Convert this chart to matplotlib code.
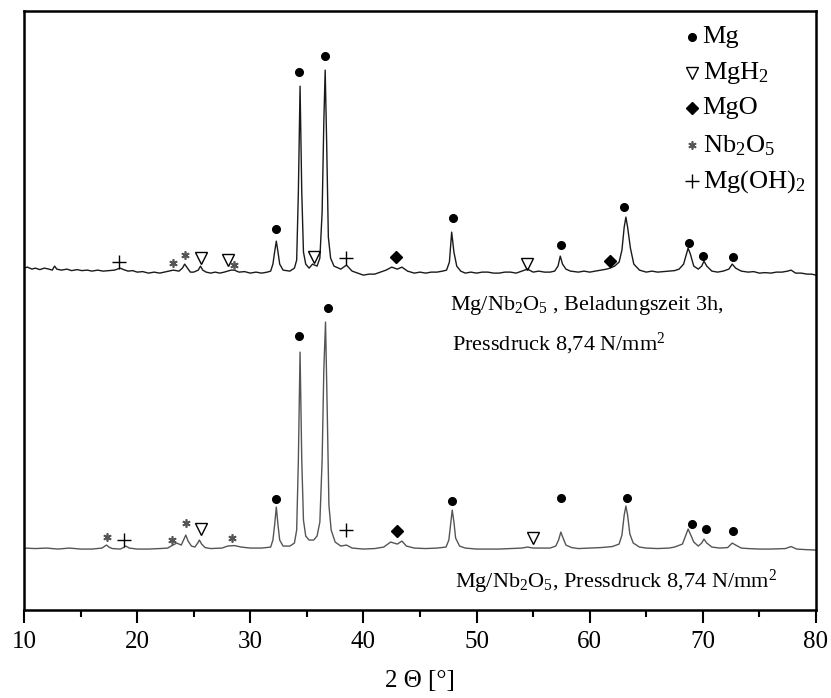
import matplotlib
matplotlib.use("Agg")
import matplotlib.pyplot as plt

plt.rcParams['font.family'] = 'Liberation Serif'
plt.rcParams['mathtext.fontset'] = 'custom'
plt.rcParams['mathtext.rm'] = 'Liberation Serif'
plt.rcParams['mathtext.it'] = 'Liberation Serif:italic'

# XRD pattern, Mg/Nb2O5 pressed (lower curve)
two_theta_a = [10.0, 11.0, 12.0, 13.0, 14.0, 15.0, 16.0, 16.9, 17.15, 17.3, 17.5, 17.8, 18.5,
               18.8, 19.0, 19.3, 20.0, 21.0, 22.0, 22.7, 23.0, 23.5, 23.9, 24.1, 24.3, 24.5,
               24.8, 25.1, 25.35, 25.5, 25.7, 26.0, 26.5, 27.5, 28.0, 28.6, 29.2, 30.0, 31.0,
               31.8, 32.0, 32.15, 32.3, 32.45, 32.6, 32.9, 33.5, 33.9, 34.1, 34.25, 34.4,
               34.55, 34.7, 34.9, 35.2, 35.6, 35.9, 36.15, 36.35, 36.5, 36.65, 36.8, 36.95,
               37.15, 37.5, 38.0, 38.5, 39.0, 40.0, 41.0, 41.8, 42.4, 43.0, 43.4, 43.8, 44.5,
               45.5, 46.5, 47.3, 47.55, 47.7, 47.85, 48.0, 48.15, 48.5, 49.0, 50.0, 51.0,
               52.0, 53.0, 54.0, 54.5, 55.0, 56.5, 57.0, 57.25, 57.45, 57.65, 57.9, 58.4,
               59.0, 60.0, 61.0, 62.0, 62.6, 62.85, 63.05, 63.2, 63.35, 63.55, 63.85, 64.4,
               65.0, 66.0, 67.0, 67.5, 68.2, 68.5, 68.7, 68.9, 69.2, 69.6, 69.9, 70.1, 70.35,
               70.8, 71.5, 72.2, 72.6, 72.9, 73.4, 74.0, 75.0, 76.0, 77.3, 77.8, 78.3, 79.0, 80.0]
intens_a = [62, 61.5, 62, 61, 62, 61, 61, 62, 64, 65, 63, 61.5, 61,
            62.5, 64, 62, 61, 61, 61.5, 62, 64, 67, 65, 70, 75, 69,
            64, 63, 67, 70, 66, 62.5, 61.5, 62, 64, 64.5, 63, 62, 62,
            63, 70, 85, 103, 85, 70, 64, 64, 67, 80, 150, 258,
            150, 90, 74, 70, 70, 74, 88, 150, 240, 288, 200, 105,
            80, 68, 64, 65, 62, 61, 61.5, 63, 68, 66, 69, 64, 62,
            61.5, 62, 63, 70, 85, 100, 88, 72, 64, 62, 61, 61,
            61, 61.5, 62, 63, 62, 62, 64, 70, 78, 72, 65, 62.5,
            61.5, 62, 62.5, 63.5, 66, 75, 95, 104, 95, 76, 67, 63,
            62, 61.5, 62, 63, 66, 75, 81, 76, 68, 64, 67, 71, 67,
            63, 62, 62.5, 67, 65, 62, 61.5, 61, 61, 61.5, 63.5, 61, 60.5, 60]

# XRD pattern, Mg/Nb2O5 after 3h loading (upper curve)
two_theta_b = [10.0, 10.3, 10.7, 11.0, 11.4, 11.8, 12.2, 12.5, 12.7, 12.9, 13.3, 13.8, 14.2,
               14.7, 15.1, 15.6, 16.0, 16.5, 17.0, 17.5, 18.0, 18.5, 18.8, 19.2, 19.6, 20.0,
               20.5, 21.0, 21.5, 22.0, 22.4, 22.8, 23.2, 23.7, 24.0, 24.2, 24.45, 24.7, 25.0,
               25.4, 25.6, 25.8, 26.1, 26.5, 26.9, 27.3, 27.7, 28.0, 28.3, 28.6, 29.0, 29.5,
               30.0, 30.5, 31.0, 31.5, 31.8, 32.0, 32.15, 32.3, 32.45, 32.6, 32.9, 33.5, 33.9,
               34.1, 34.25, 34.4, 34.55, 34.7, 34.9, 35.2, 35.5, 35.9, 36.15, 36.35, 36.5,
               36.62, 36.75, 36.9, 37.1, 37.4, 38.0, 38.5, 39.0, 39.5, 40.0, 40.5, 41.0, 41.5,
               42.0, 42.5, 43.0, 43.4, 43.9, 44.5, 45.0, 45.5, 46.0, 46.5, 47.0, 47.35, 47.6,
               47.8, 48.0, 48.25, 48.6, 49.0, 49.5, 50.0, 50.5, 51.0, 51.5, 52.0, 52.5, 53.0,
               53.5, 54.0, 54.5, 55.0, 55.5, 56.0, 56.5, 56.9, 57.2, 57.4, 57.6, 57.9, 58.3,
               59.0, 59.5, 60.0, 60.5, 61.0, 61.5, 61.8, 62.2, 62.6, 62.85, 63.05, 63.2,
               63.35, 63.6, 63.9, 64.4, 65.0, 65.5, 66.0, 66.5, 67.0, 67.5, 67.9, 68.3, 68.5,
               68.7, 68.9, 69.2, 69.6, 69.9, 70.1, 70.35, 70.8, 71.3, 71.8, 72.3, 72.6, 72.9,
               73.4, 74.0, 74.5, 75.0, 75.5, 76.0, 76.5, 77.0, 77.5, 77.8, 78.2, 78.7, 79.2,
               79.6, 80.0]
intens_b = [64, 65, 63, 64, 62.5, 64, 63, 62, 66, 63, 62, 63, 61.5,
            62.5, 61.5, 62, 61, 62, 61, 61.5, 62, 64, 62.5, 61, 61.5, 60,
            60.5, 59, 60, 59, 60, 61, 62, 61, 64, 68, 64, 60, 60,
            62, 66, 62, 60, 59, 60, 59, 60, 61, 62, 62, 60, 60.5,
            59, 60, 59, 60, 61, 68, 80, 91, 80, 68, 62, 61, 64,
            72, 140, 246, 140, 80, 68, 64, 68, 66, 74, 120, 210,
            262, 190, 95, 74, 66, 63, 67, 61, 59, 57, 58, 58, 60,
            62, 65, 63, 65, 61, 59, 60, 59, 60, 60, 61, 62, 70,
            100, 80, 66, 61, 59, 60, 59, 60, 60, 59, 59, 60, 60,
            59, 61, 63, 60, 61, 60, 60, 61, 66, 76, 68, 63, 61,
            60, 61, 60, 61, 62, 63, 64, 66, 70, 82, 105, 115,
            105, 84, 68, 62, 60, 61, 60, 60.5, 61, 61.5, 63, 68, 76,
            84, 78, 66, 63, 66, 71, 66, 61, 60, 61, 63, 68, 64,
            61, 60, 60.5, 59, 59.5, 59, 60, 60, 61, 62, 59, 59, 58,
            58, 57]
offset_b = 278

# phase markers (2theta, intensity level) for each pattern
mg_a = [(32.3, 111), (34.3, 274), (36.9, 302), (47.8, 109), (57.5, 112), (63.3, 112),
        (69.0, 86), (70.3, 81), (72.7, 79)]
mgh2_a = [(25.6, 81), (55.0, 72)]
mgo_a = [(43.0, 79)]
nb2o5_a = [(17.3, 73), (23.1, 70), (24.3, 87), (28.4, 72)]
mgoh2_a = [(18.8, 70), (38.5, 80)]

mg_b = [(32.3, 103), (34.3, 260), (36.6, 276), (47.9, 114), (57.5, 87), (63.0, 125),
        (68.8, 89), (70.0, 76), (72.7, 75)]
mgh2_b = [(25.6, 74), (28.0, 72), (35.6, 75), (54.5, 68)]
mgo_b = [(42.9, 75), (61.8, 71)]
nb2o5_b = [(23.2, 69), (24.2, 77), (28.6, 67)]
mgoh2_b = [(18.4, 70), (38.5, 74)]

styles = {
    'mg': dict(marker='o', color='black', markersize=5.5, linestyle='none'),
    'mgh2': dict(marker='v', markerfacecolor='none', markeredgecolor='black',
                 markersize=9, markeredgewidth=1, linestyle='none'),
    'mgo': dict(marker='D', color='black', markersize=6, linestyle='none'),
    'nb2o5': dict(marker=(6, 2, 0), color='#555555', markersize=6,
                  markeredgewidth=1.2, linestyle='none'),
    'mgoh2': dict(marker='+', color='black', markersize=10, markeredgewidth=1,
                  linestyle='none'),
}

fig = plt.figure(figsize=(8.31, 6.98), dpi=100)
ax = fig.add_axes([0.0289, 0.126, 0.953, 0.858])

ax.plot(two_theta_a, intens_a, color='#555555', linewidth=1.0)
ax.plot(two_theta_b, [v + offset_b for v in intens_b], color='#1a1a1a', linewidth=1.0)


def put(points, key, off=0):
    ax.plot([p[0] for p in points], [p[1] + off for p in points], **styles[key])


put(mg_a, 'mg'); put(mgh2_a, 'mgh2'); put(mgo_a, 'mgo'); put(nb2o5_a, 'nb2o5'); put(mgoh2_a, 'mgoh2')
put(mg_b, 'mg', offset_b); put(mgh2_b, 'mgh2', offset_b); put(mgo_b, 'mgo', offset_b)
put(nb2o5_b, 'nb2o5', offset_b); put(mgoh2_b, 'mgoh2', offset_b)

# legend written by hand
legend_keys = ['mg', 'mgh2', 'mgo', 'nb2o5', 'mgoh2']
legend_labels = ['Mg', 'MgH$_2$', 'MgO', 'Nb$_2$O$_5$', 'Mg(OH)$_2$']
legend_y = [0.957, 0.896, 0.838, 0.776, 0.716]
for key, lab, yy in zip(legend_keys, legend_labels, legend_y):
    ax.plot([0.843], [yy], transform=ax.transAxes, clip_on=False, **styles[key])
    ax.text(0.857, yy, lab, transform=ax.transAxes, fontsize=19, va='center', ha='left')

ax.text(0.538, 0.509, 'Mg/Nb$_2$O$_5$ , Beladungszeit 3h,', transform=ax.transAxes,
        fontsize=16, va='center', ha='left')
ax.text(0.540, 0.444, 'Pressdruck 8,74 N/mm$^2$', transform=ax.transAxes,
        fontsize=16, va='center', ha='left')
ax.text(0.544, 0.047, 'Mg/Nb$_2$O$_5$, Pressdruck 8,74 N/mm$^2$', transform=ax.transAxes,
        fontsize=16, va='center', ha='left')

ax.set_xlim(10, 80)
ax.set_ylim(0, 599)
ax.set_xticks([10, 20, 30, 40, 50, 60, 70, 80])
ax.set_xticks([15, 25, 35, 45, 55, 65, 75], minor=True)
ax.set_yticks([])
ax.tick_params(axis='x', which='major', direction='out', length=9, width=1.5,
               labelsize=18, pad=6)
ax.tick_params(axis='x', which='minor', direction='out', length=5, width=1.5)
for s in ax.spines.values():
    s.set_linewidth(1.8)
ax.set_xlabel('2 \u0398 [\u00b0]', fontsize=18, labelpad=12)

fig.savefig('out.png', dpi=100)
